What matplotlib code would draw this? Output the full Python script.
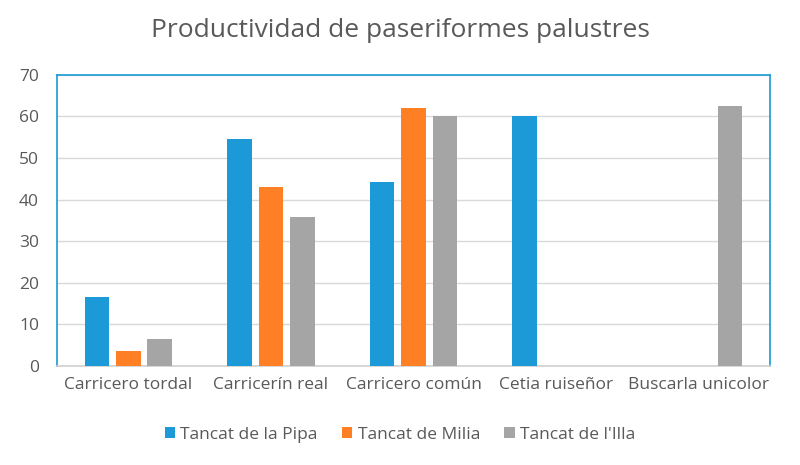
import matplotlib.pyplot as plt
import numpy as np

plt.rcParams['font.family'] = ['Open Sans', 'DejaVu Sans']

categories = ["Carricero tordal", "Carricerín real", "Carricero común",
              "Cetia ruiseñor", "Buscarla unicolor"]
series = ["Tancat de la Pipa", "Tancat de Milia", "Tancat de l'Illa"]
pipa = [16.7, 54.5, 44.3, 60.0, np.nan]
milia = [3.7, 42.9, 61.9, np.nan, np.nan]
illa = [6.6, 35.9, 60.0, np.nan, 62.5]
colors = ["#1b9ad7", "#fe7f24", "#a5a5a5"]
text_col = "#595959"

fig = plt.figure(figsize=(8, 4.65), dpi=100)
ax = fig.add_axes([0.07125, 0.2129, 0.89125, 0.6265])

x = np.arange(len(categories))
w = 0.173
step = 0.22
for i, (vals, c, name) in enumerate(zip([pipa, milia, illa], colors, series)):
    ax.bar(x + (i - 1) * step, vals, width=w, color=c, label=name, zorder=3)

ax.set_xlim(-0.5, len(categories) - 0.5)
ax.set_ylim(0, 70)
ax.set_yticks(range(0, 71, 10))
ax.set_xticks(x)
ax.set_xticklabels(categories)
ax.yaxis.grid(True, color="#d9d9d9", linewidth=1, zorder=0)
ax.tick_params(axis='both', length=0, colors=text_col, labelsize=12.5)
ax.tick_params(axis='y', pad=13)
ax.tick_params(axis='x', pad=8)

for side in ['left', 'top', 'right']:
    ax.spines[side].set_color("#1b9ad7")
    ax.spines[side].set_linewidth(1.2)
ax.spines['bottom'].set_color("#d0d0d0")
ax.spines['bottom'].set_linewidth(1.2)

fig.text(0.5, 0.935, "Productividad de paseriformes palustres", ha='center',
         va='center', fontsize=19, color=text_col)

leg = fig.legend(loc='center', bbox_to_anchor=(0.5, 0.065), ncol=3, frameon=False,
                 handlelength=0.6, handleheight=0.6, handletextpad=0.3,
                 columnspacing=1.4, fontsize=12.5)
for t in leg.get_texts():
    t.set_color(text_col)

fig.savefig("out.png", dpi=100)
